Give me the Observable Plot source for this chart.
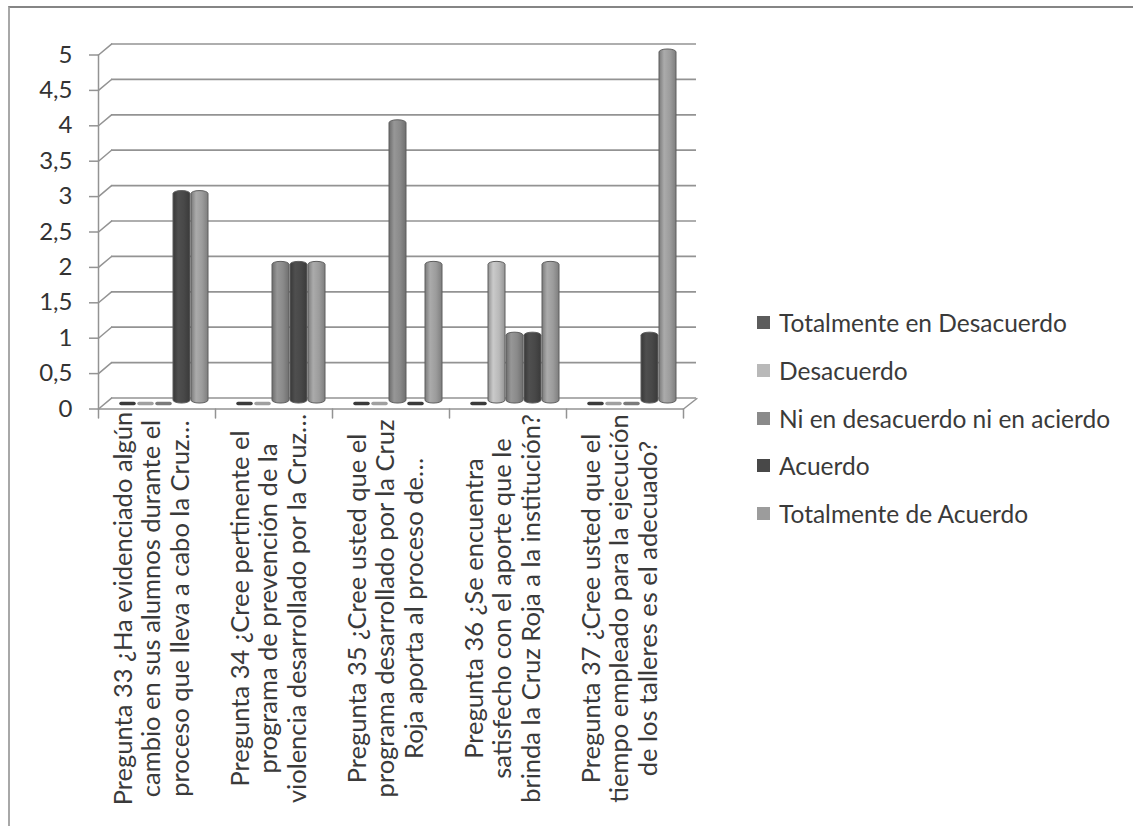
<!DOCTYPE html>
<html>
<head>
<meta charset="utf-8">
<script src="https://cdn.jsdelivr.net/npm/d3@7"></script>
<script src="https://cdn.jsdelivr.net/npm/@observablehq/plot@0.6"></script>
<style>
  html, body { margin: 0; padding: 0; background: #fff; }
  #wrap { position: relative; width: 1133px; height: 826px; overflow: hidden; font-family: Lato, "Open Sans", sans-serif; }
  #border { position: absolute; left: 8px; top: 6px; width: 1300px; height: 1000px; border-top: 2px solid #858585; border-left: 2px solid #a8a8a8; }
  #chart { position: absolute; left: 0; top: 0; }
  #legend { position: absolute; left: 757px; top: 299px; }
  .item { display: flex; align-items: center; height: 47.7px; font-size: 24.5px; color: #3a3a3a; white-space: nowrap; }
  .sw { width: 13px; height: 13px; margin-right: 9px; flex: none; }
</style>
</head>
<body>
<div id="wrap">
  <div id="border"></div>
  <div id="chart"></div>
  <div id="legend"></div>
</div>
<script>
// ---- data ----
const categories = [
  "Pregunta 33 ¿Ha evidenciado algún\ncambio en sus alumnos durante el\nproceso que lleva a cabo la Cruz…",
  "Pregunta 34 ¿Cree pertinente el\nprograma de prevención de la\nviolencia desarrollado por la Cruz…",
  "Pregunta 35 ¿Cree usted que el\nprograma desarrollado por la Cruz\nRoja aporta al proceso de…",
  "Pregunta 36 ¿Se encuentra\nsatisfecho con el aporte que le\nbrinda la Cruz Roja a la institución?",
  "Pregunta 37 ¿Cree usted que el\ntiempo empleado para la ejecución\nde los talleres es el adecuado?"
];
const series = [
  "Totalmente en Desacuerdo",
  "Desacuerdo",
  "Ni en desacuerdo ni en acierdo",
  "Acuerdo",
  "Totalmente de Acuerdo"
];
const totalmenteEnDesacuerdo = [0, 0, 0, 0, 0];
const desacuerdo             = [0, 0, 0, 2, 0];
const niNi                   = [0, 2, 4, 1, 0];
const acuerdo                = [3, 2, 0, 1, 1];
const totalmenteDeAcuerdo    = [3, 2, 2, 2, 5];
const yTicks = [0, 0.5, 1, 1.5, 2, 2.5, 3, 3.5, 4, 4.5, 5];

const seriesValues = [totalmenteEnDesacuerdo, desacuerdo, niNi, acuerdo, totalmenteDeAcuerdo];
const seriesColors = ["#5c5c5c", "#b9b9b9", "#8a8a8a", "#484848", "#9c9c9c"];
const zeroColors   = ["#3a3a3a", "#a0a0a0", "#7a7a7a", "#3a3a3a", "#8a8a8a"];

const rows = [];
categories.forEach((c, i) => series.forEach((s, j) => rows.push({category: c, series: s, value: seriesValues[j][i]})));

// ---- styling ----
const gridColor = "#939393";
const lineShape = {draw(context, l) { context.moveTo(0, 0); context.lineTo(0, -l); }};
const BAR_DX = 7;

const marks = [
  Plot.ruleY(yTicks, {y: d => d, dx: 13, dy: -5.5, stroke: gridColor, strokeWidth: 1.7}),
  Plot.ruleY([0], {y: d => d, dy: 5.5, stroke: gridColor, strokeWidth: 1.5}),
  Plot.vector(yTicks, {fx: () => categories[0], y: d => d, frameAnchor: "left", dy: 5.5, rotate: 50, length: 17, anchor: "start", shape: lineShape, stroke: gridColor, strokeWidth: 1.5}),
  Plot.vector([categories[categories.length - 1]], {fx: d => d, frameAnchor: "bottom-right", dy: 5.5, rotate: 52, length: 17, anchor: "start", shape: lineShape, stroke: gridColor, strokeWidth: 1.5}),
  Plot.vector([0], {frameAnchor: "bottom-left", dy: 5.5, rotate: 180, length: 9, anchor: "start", shape: lineShape, stroke: gridColor, strokeWidth: 1.5}),
  Plot.vector([categories[categories.length - 1]], {fx: d => d, frameAnchor: "bottom-right", dy: 5.5, rotate: 180, length: 9, anchor: "start", shape: lineShape, stroke: gridColor, strokeWidth: 1.5}),
  Plot.frame({anchor: "left", facetAnchor: "left", dy: 5.5, stroke: gridColor, strokeWidth: 1.5}),
  Plot.axisY({ticks: yTicks, tickFormat: d => String(d).replace(".", ","), tickSize: 9, tickPadding: 17, dy: 5.5, fontSize: 24, stroke: gridColor, strokeWidth: 1.5, fill: "#333", label: null}),
];

series.forEach((s, j) => {
  marks.push(Plot.tickY(rows.filter(d => d.series === s && d.value === 0), {
    fx: "category", x: "series", y: "value", dx: BAR_DX, stroke: zeroColors[j], strokeWidth: 3.5,
    insetLeft: 2, insetRight: 2, strokeLinecap: "round"
  }));
  marks.push(Plot.barY(rows.filter(d => d.series === s && d.value > 0), {
    fx: "category", x: "series", y: "value", dx: BAR_DX, fill: `url(#cyl${j})`,
    stroke: "#5e5e5e", strokeWidth: 1, rx: 8, ry: 3
  }));
});

marks.push(Plot.text(categories, {
  fx: d => d, text: d => d, frameAnchor: "bottom", rotate: -90, dy: 205, dx: -6,
  textAnchor: "middle", lineAnchor: "middle", lineHeight: 1.12, fontSize: 25.5, fill: "#3a3a3a"
}));

const chart = Plot.plot({
  width: 740, height: 826,
  marginLeft: 97, marginRight: 57, marginTop: 49, marginBottom: 423,
  style: {fontFamily: "Lato, 'Open Sans', sans-serif", background: "transparent", overflow: "visible"},
  fx: {domain: categories, padding: 0, axis: null, label: null},
  x: {domain: series, paddingInner: 0.05, paddingOuter: 0.675, axis: null},
  y: {domain: [0, 5], axis: null},
  marks
});

const defs = d3.select(chart).insert("defs", ":first-child");
seriesColors.forEach((c, j) => {
  const base = d3.color(c);
  const g = defs.append("linearGradient").attr("id", `cyl${j}`).attr("x1", "0").attr("x2", "1").attr("y1", "0").attr("y2", "0");
  g.append("stop").attr("offset", "0%").attr("stop-color", base.darker(0.7).formatHex());
  g.append("stop").attr("offset", "30%").attr("stop-color", base.brighter(0.25).formatHex());
  g.append("stop").attr("offset", "65%").attr("stop-color", base.formatHex());
  g.append("stop").attr("offset", "100%").attr("stop-color", base.darker(0.6).formatHex());
});

document.getElementById("chart").appendChild(chart);

const legend = d3.select("#legend");
series.forEach((s, j) => {
  const it = legend.append("div").attr("class", "item");
  it.append("div").attr("class", "sw").style("background", seriesColors[j]);
  it.append("span").text(s);
});
</script>
</body>
</html>
